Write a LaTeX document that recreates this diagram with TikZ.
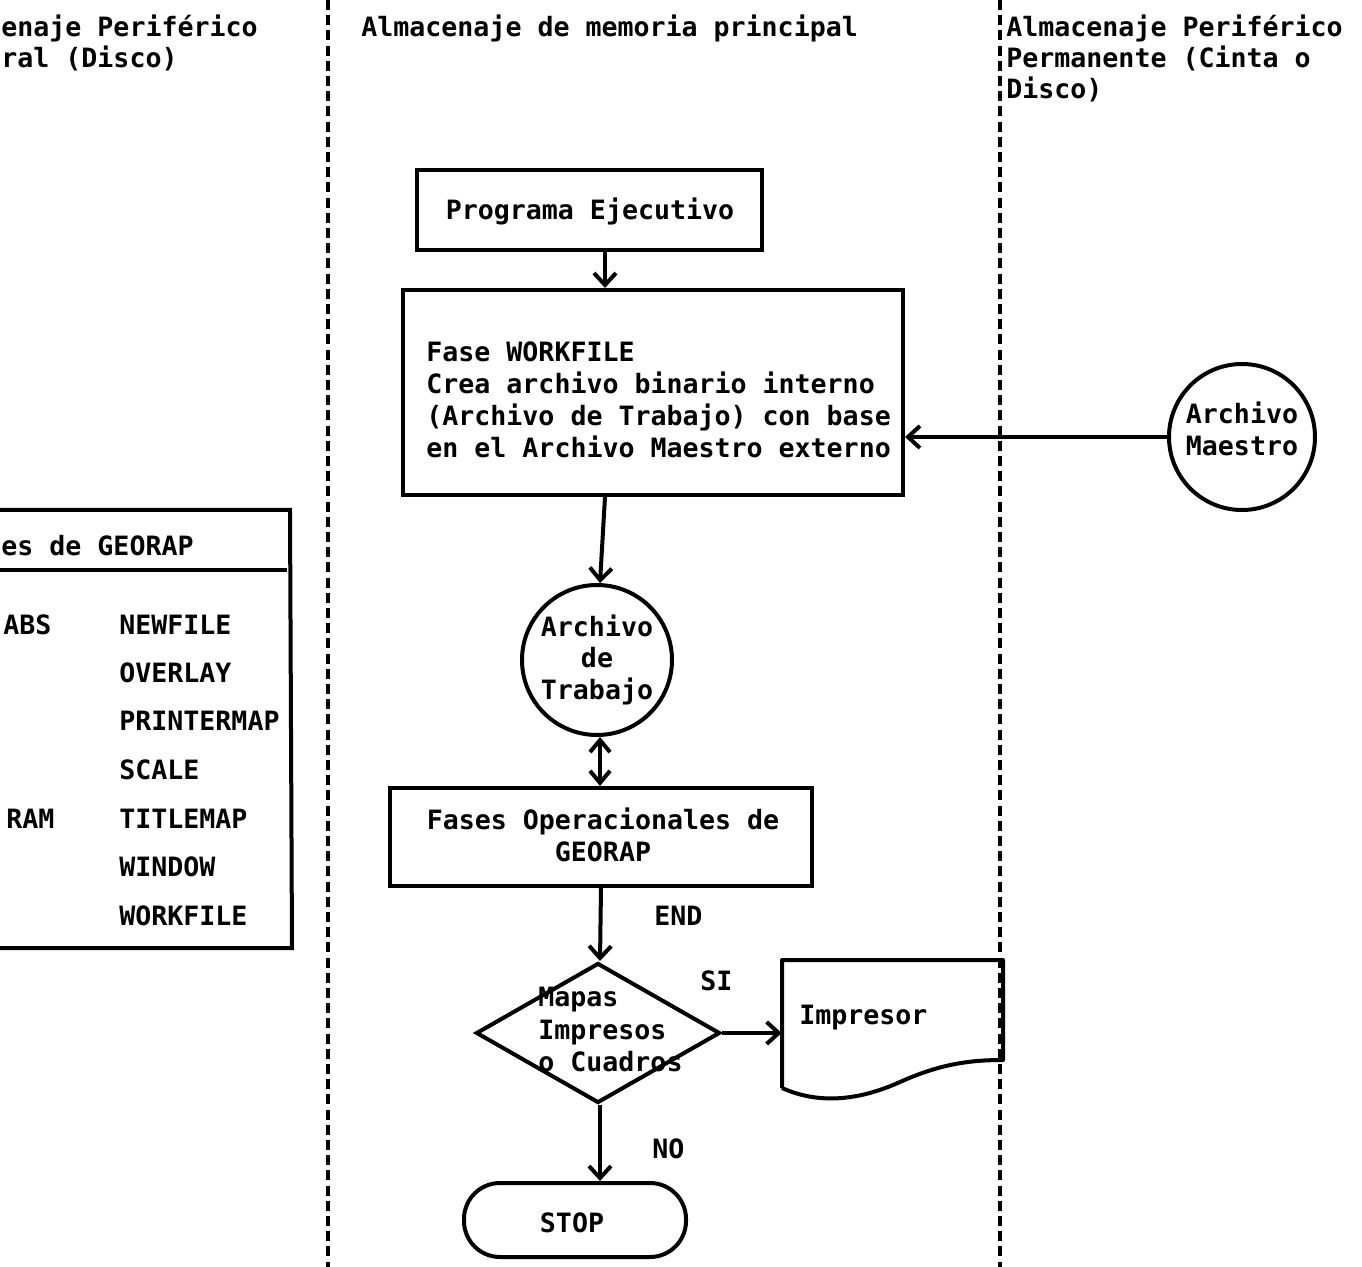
\documentclass[tikz,border=0pt]{standalone}
\usepackage{fontspec}
\setmainfont{DejaVu Sans Mono}
\usetikzlibrary{shapes.geometric,arrows.meta}
\tikzset{
  txt/.style={font=\fontsize{13.3}{16}\selectfont\bfseries, inner sep=0pt, anchor=base},
  txtw/.style={txt, anchor=base west},
  shp/.style={draw, line width=2pt, inner sep=0pt},
  boxs/.style={shp, rectangle},
  circ/.style={shp, circle},
  arr/.style={line width=2pt, -{Straight Barb[length=6pt,width=11pt]}},
  darr/.style={line width=2pt, {Straight Barb[length=6pt,width=10pt]}-{Straight Barb[length=6pt,width=10pt]}},
  ln/.style={line width=2pt},
  lane/.style={line width=1.6pt, dash pattern=on 5pt off 2.6pt},
}
\begin{document}
\begin{tikzpicture}[x=0.5pt,y=-0.5pt]
\useasboundingbox (0,0) rectangle (1362,1267);
\clip (0,0) rectangle (1362,1267);

% lane separators
\coordinate (l1t) at (328,0);   \coordinate (l1b) at (328,1267);
\coordinate (l2t) at (1000,0);  \coordinate (l2b) at (1000,1267);
\draw[lane] (l1t) -- (l1b);
\draw[lane] (l2t) -- (l2b);

% headers
\node[txtw] (hl1) at (1,37) {enaje Periférico};
\node[txtw] (hl2) at (1,68) {ral (Disco)};
\node[txtw] (hc) at (361,37) {Almacenaje de memoria principal};
\node[txtw] (hr1) at (1006,37) {Almacenaje Periférico};
\node[txtw] (hr2) at (1006,68) {Permanente (Cinta o};
\node[txtw] (hr3) at (1006,99) {Disco)};

% left box (cut by page edge)
\coordinate (lb1) at (-10,510);
\coordinate (lb2) at (290,510);
\coordinate (lb3) at (292,948);
\coordinate (lb4) at (-10,948);
\coordinate (ld1) at (-10,570);
\coordinate (ld2) at (287,570);
\draw[ln] (lb1) -- (lb2) -- (lb3) -- (lb4);
\draw[ln] (ld1) -- (ld2);
\node[txtw] (lt) at (1,556) {es de GEORAP};
\node[txtw] (la) at (3,635) {ABS};
\node[txtw] (lr) at (6,828) {RAM};
\node[txtw] (i1) at (119,635) {NEWFILE};
\node[txtw] (i2) at (119,683) {OVERLAY};
\node[txtw] (i3) at (119,731) {PRINTERMAP};
\node[txtw] (i4) at (119,780) {SCALE};
\node[txtw] (i5) at (119,828) {TITLEMAP};
\node[txtw] (i6) at (119,877) {WINDOW};
\node[txtw] (i7) at (119,925) {WORKFILE};

% Programa Ejecutivo
\node[boxs, minimum width=172.5pt, minimum height=40pt] (prog) at (589.5,210) {};
\node[txt] (progt) at (590,220) {Programa Ejecutivo};

% Fase WORKFILE
\node[boxs, minimum width=250pt, minimum height=102.5pt] (wf) at (653,392.5) {};
\node[txtw] (wf1) at (426,362) {Fase WORKFILE};
\node[txtw] (wf2) at (426,394) {Crea archivo binario interno};
\node[txtw] (wf3) at (426,426) {(Archivo de Trabajo) con base};
\node[txtw] (wf4) at (426,458) {en el Archivo Maestro externo};

% Archivo Maestro
\node[circ, minimum size=73pt] (ma) at (1242,437) {};
\node[txt] (ma1) at (1242,424) {Archivo};
\node[txt] (ma2) at (1242,456) {Maestro};

% Archivo de Trabajo
\node[circ, minimum size=75pt] (at) at (597,660) {};
\node[txt] (at1) at (597,637) {Archivo};
\node[txt] (at2) at (597,668) {de};
\node[txt] (at3) at (597,700) {Trabajo};

% Fases Operacionales
\node[boxs, minimum width=211pt, minimum height=49pt] (fo) at (601,837) {};
\node[txt] (fo1) at (603,830) {Fases Operacionales de};
\node[txt] (fo2) at (603,862) {GEORAP};

% Decision
\node[shp, diamond, minimum width=122pt, minimum height=70pt, aspect=1.74] (dm) at (598,1033) {};
\node[txtw] (dm1) at (538,1007) {Mapas};
\node[txtw] (dm2) at (538,1039) {Impresos};
\node[txtw] (dm3) at (538,1071) {o Cuadros};

% Impresor (document shape)
\node[inner sep=0pt, minimum width=110.5pt, minimum height=50pt] (pr) at (892.5,1010) {};
\coordinate (p1) at (782,960);
\coordinate (p2) at (1003,960);
\coordinate (p3) at (1003,1060);
\coordinate (p4) at (900,1082);
\coordinate (p5) at (782,1088);
\draw[ln, line join=round] (p5) -- (p1) -- (p2) -- (p3)
  .. controls (970,1060) and (940,1064) .. (p4)
  .. controls (860,1100) and (820,1105) .. (p5);
\node[txtw] (prt) at (799,1024) {Impresor};

% STOP
\node[boxs, rounded corners=18pt, minimum width=111pt, minimum height=37pt] (stop) at (575,1220) {};
\node[txt] (stopt) at (572,1232) {STOP};

% helper columns
\coordinate (c1) at (605,0);
\coordinate (c2) at (601,0);
\coordinate (c3) at (600,0);

% connectors
\draw[arr] (prog.south -| c1) -- (wf.north -| c1);
\draw[arr] (ma.west) -- (wf.east |- ma.west);
\draw[arr] (wf.south -| c1) -- (at.north -| c3);
\draw[darr] (at.south -| c3) -- (fo.north -| c3);
\draw[arr] (fo.south -| c2) -- (dm.north -| c3);
\draw[arr] (dm.east) -- (pr.west |- dm.east);
\draw[arr] (dm.south -| c3) -- (stop.north -| c3);

% labels
\node[txtw] (lend) at (654,926) {END};
\node[txtw] (lsi) at (700,990) {SI};
\node[txtw] (lno) at (652,1158) {NO};
\end{tikzpicture}
\end{document}
